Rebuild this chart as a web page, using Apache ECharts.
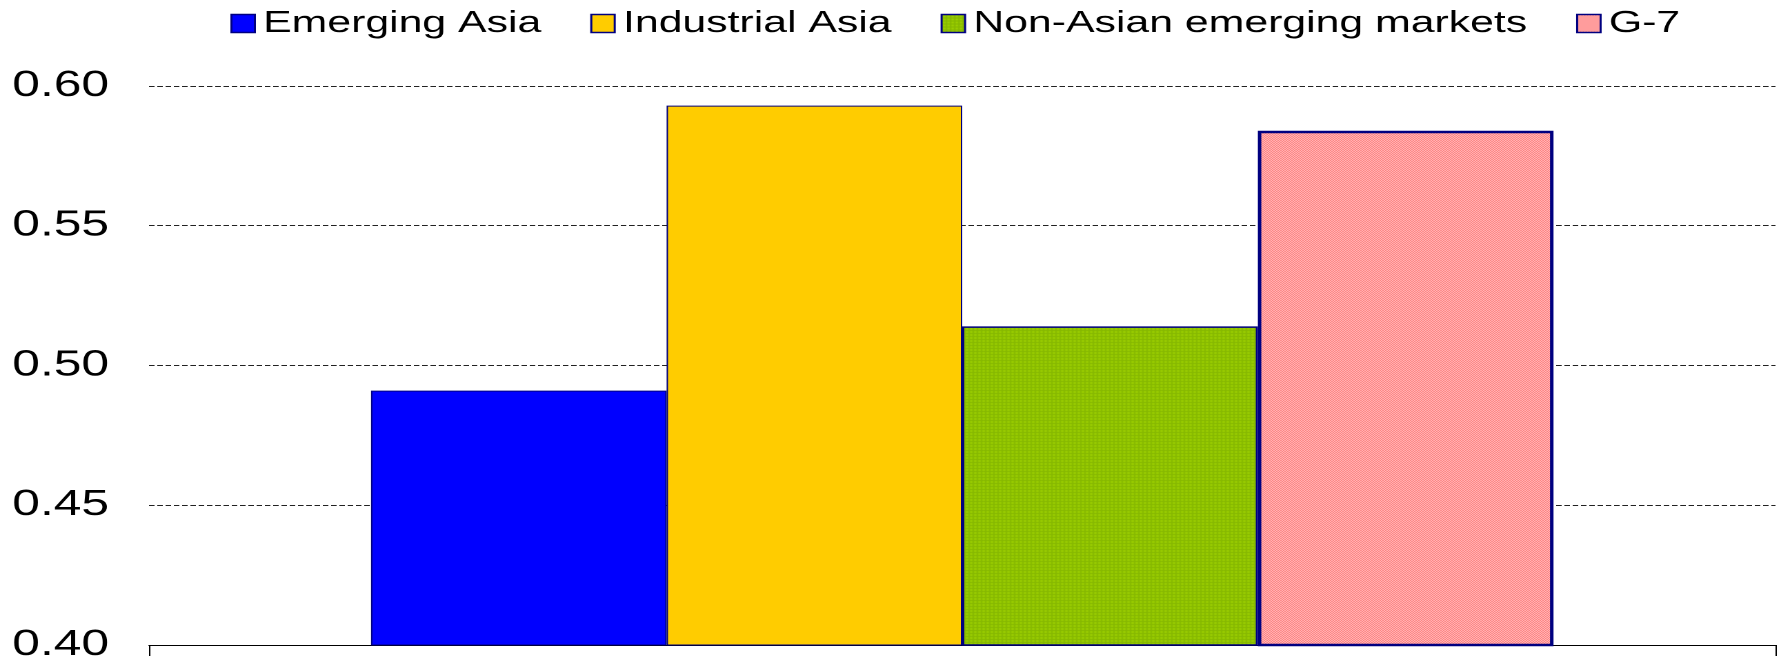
<!DOCTYPE html>
<html>
<head>
<meta charset="utf-8">
<script src="https://cdn.jsdelivr.net/npm/echarts@6/dist/echarts.min.js"></script>
<style>
  html, body { margin: 0; padding: 0; background: #fff; overflow: hidden; }
  #chart { width: 1291px; height: 663px; transform: scaleX(1.37955); transform-origin: 0 0; }
</style>
</head>
<body>
<div id="chart"></div>
<script>
// ---- data ----
const categories = [''];
const seriesNames = ['Emerging Asia', 'Industrial Asia', 'Non-Asian emerging markets', 'G-7'];
const emergingAsia = [0.491];
const industrialAsia = [0.593];
const nonAsianEmerging = [0.514];
const g7 = [0.584];
const yMin = 0.40, yMax = 0.60, yStep = 0.05;

// ---- fill patterns ----
const pinkPattern = (function(){
  const c = document.createElement('canvas'); c.width = 4; c.height = 4;
  const g = c.getContext('2d');
  g.fillStyle = '#FFFFFF'; g.fillRect(0,0,4,4);
  g.fillStyle = '#FF3A3A';
  [[0,0],[2,0],[1,1],[3,1],[0,2],[2,2],[1,3],[3,3]].forEach(p => g.fillRect(p[0], p[1], 1, 1));
  return c;
})();
const greenCanvas = (function(){
  const c = document.createElement('canvas'); c.width = 3; c.height = 3;
  const g = c.getContext('2d');
  g.fillStyle = '#99CC00'; g.fillRect(0,0,3,3);
  g.fillStyle = '#86B800'; g.fillRect(0,0,3,1); g.fillRect(0,0,1,3);
  return c;
})();

const FONT = "'Liberation Sans', Arial, Helvetica, sans-serif";
const chart = echarts.init(document.getElementById('chart'), null, { renderer: 'canvas', devicePixelRatio: 2 });

const seriesData = [emergingAsia, industrialAsia, nonAsianEmerging, g7];
const fills = ['#0000FF', '#FFCC00', { image: greenCanvas, repeat: 'repeat' }, { image: pinkPattern, repeat: 'repeat' }];
const borders = [1, 1, 1.5, 2.5];

chart.setOption({
  animation: false,
  backgroundColor: '#FFFFFF',
  legend: {
    left: 167,
    top: 8,
    padding: 0,
    itemWidth: 17,
    itemHeight: 18,
    itemGap: 35.5,
    icon: 'rect',
    itemStyle: { borderColor: '#000080', borderWidth: 1.5 },
    textStyle: { fontFamily: FONT, fontSize: 31, color: '#000', padding: [0, 0, 0, 1] },
    data: seriesNames
  },
  grid: { left: 108, right: 4, top: 86, bottom: 15 },
  xAxis: {
    type: 'category',
    data: categories,
    axisLine: { show: true, lineStyle: { color: '#000', width: 1 } },
    axisTick: { show: true, length: 11, lineStyle: { color: '#000', width: 1 } },
    axisLabel: { show: false },
    splitLine: { show: false }
  },
  yAxis: {
    type: 'value',
    min: yMin,
    max: yMax,
    interval: yStep,
    axisLine: { show: false },
    axisTick: { show: false },
    axisLabel: {
      fontFamily: FONT, fontSize: 36, color: '#000', margin: 29,
      formatter: v => v.toFixed(2)
    },
    splitLine: { show: true, lineStyle: { color: '#222', width: 1, type: [4, 2] } }
  },
  series: seriesNames.map((name, i) => ({
    name: name,
    type: 'bar',
    data: seriesData[i],
    barGap: '0%',
    barCategoryGap: '27.3%',
    itemStyle: { color: fills[i], borderColor: '#000080', borderWidth: borders[i] },
    emphasis: { disabled: true }
  }))
});
</script>
</body>
</html>
